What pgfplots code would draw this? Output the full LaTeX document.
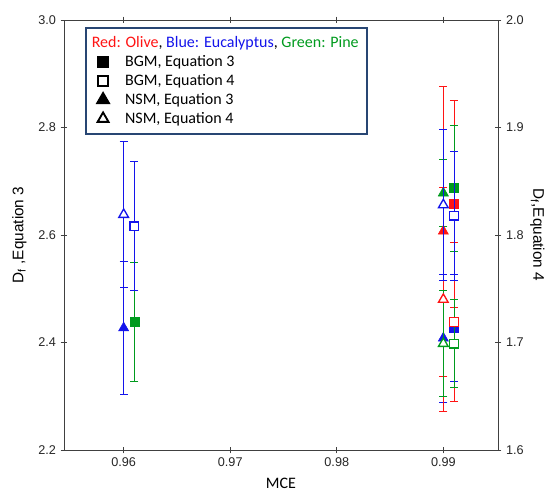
\documentclass[border=0pt]{standalone}
\usepackage{fontspec}
\setmainfont{Liberation Sans}
\newfontfamily\calibri{Carlito}
\usepackage{pgfplots}
\pgfplotsset{compat=1.18}

\definecolor{cred}{RGB}{255,20,20}
\definecolor{cblue}{RGB}{20,20,235}
\definecolor{cgreen}{RGB}{0,155,30}
\definecolor{framecol}{RGB}{40,70,115}

\pgfplotsset{
  base/.style={
    width=325.5pt, height=322.5pt, scale only axis,
    xmin=0.9544, xmax=0.99513,
    tick align=center,
    major tick length=5pt,
    axis line style={black!75, line width=0.7pt},
    tick style={black!75, line width=0.7pt},
    ticklabel style={font=\fontsize{9.5}{10}\selectfont, text=black!85},
    label style={font=\fontsize{11.5}{13}\selectfont},
    /pgf/number format/assume math mode=true,
  },
  fsq/.style={only marks, forget plot, mark=square*, color=#1, mark size=3.4pt,
    error bars/.cd, y dir=both, y explicit,
    error bar style={color=#1, line width=0.6pt},
    error mark options={rotate=90, draw=#1, mark size=3pt, line width=0.8pt}},
  ftri/.style={only marks, forget plot, mark=triangle*, color=#1, mark size=4.4pt,
    error bars/.cd, y dir=both, y explicit,
    error bar style={color=#1, line width=0.6pt},
    error mark options={rotate=90, draw=#1, mark size=3pt, line width=0.8pt}},
  osq/.style={only marks, forget plot, mark=square*, color=#1, mark size=3.2pt,
    mark options={fill=white, draw=#1, line width=1pt},
    error bars/.cd, y dir=both, y explicit,
    error bar style={color=#1, line width=0.6pt},
    error mark options={rotate=90, draw=#1, mark size=3pt, line width=0.8pt}},
  otri/.style={only marks, forget plot, mark=triangle*, color=#1, mark size=4.2pt,
    mark options={fill=white, draw=#1, line width=1pt},
    error bars/.cd, y dir=both, y explicit,
    error bar style={color=#1, line width=0.6pt},
    error mark options={rotate=90, draw=#1, mark size=3pt, line width=0.8pt}},
}

\begin{document}
\begin{tikzpicture}
% left axis: D_f from Equation 3
\begin{axis}[
  base, name=ax,
  ymin=2.2, ymax=3.0,
  ytick={2.2,2.4,2.6,2.8,3.0},
  xtick={0.96,0.97,0.98,0.99},
  ytick pos=left,
  xtick pos=both, xticklabel pos=bottom,
  yticklabel style={/pgf/number format/.cd, fixed, fixed zerofill, precision=1},
  xticklabel style={/pgf/number format/.cd, fixed, fixed zerofill, precision=2},
  xlabel={\calibri\fontsize{12}{13}\selectfont MCE},
  xlabel style={yshift=-1.5pt},
  ylabel={D\textsubscript{f} ,Equation 3},
  ylabel style={yshift=2pt},
]
% Olive
\addplot[fsq=cred] coordinates {(0.991,2.658) +- (0,0.193)};
\addplot[ftri=cred] coordinates {(0.990,2.607) +- (0,0.270)};
% Eucalyptus
\addplot[fsq=cblue] coordinates {(0.991,2.427) +- (0,0.100)};
\addplot[ftri=cblue] coordinates {(0.960,2.427) +- (0,0.123) (0.990,2.408) +- (0,0.119)};
% Pine
\addplot[fsq=cgreen] coordinates {(0.961,2.438) +- (0,0.110) (0.991,2.687) +- (0,0.117)};
\addplot[ftri=cgreen] coordinates {(0.990,2.678) +- (0,0.063)};
\end{axis}

% right axis: D_f from Equation 4
\begin{axis}[
  base,
  axis x line=none,
  axis y line*=right,
  ymin=1.6, ymax=2.0,
  ytick={1.6,1.7,1.8,1.9,2.0},
  yticklabel style={/pgf/number format/.cd, fixed, fixed zerofill, precision=1},
  ylabel={D\textsubscript{f},Equation 4},
  ylabel style={rotate=180, yshift=-2pt},
  legend style={
    at={(rel axis cs:0.048,0.984)}, anchor=north west,
    draw=framecol, line width=1.3pt,
    font=\calibri\fontsize{12}{14}\selectfont,
    inner xsep=4.5pt, inner ysep=4.5pt,
    row sep=0.4pt,
    /tikz/every odd column/.append style={column sep=10pt},
  },
  legend cell align=left,
]
% Olive
\addplot[osq=cred] coordinates {(0.991,1.719) +- (0,0.074)};
\addplot[otri=cred] coordinates {(0.990,1.740) +- (0,0.104)};
% Eucalyptus
\addplot[osq=cblue] coordinates {(0.961,1.808) +- (0,0.060) (0.991,1.818) +- (0,0.060)};
\addplot[otri=cblue] coordinates {(0.960,1.819) +- (0,0.068) (0.990,1.828) +- (0,0.070)};
% Pine
\addplot[osq=cgreen] coordinates {(0.991,1.699) +- (0,0.041)};
\addplot[otri=cgreen] coordinates {(0.990,1.699) +- (0,0.049)};

\addlegendimage{empty legend}
\addlegendentry{\hspace*{-25pt}\rule[-11pt]{0pt}{13pt}{\color{cred}Red: Olive}, {\color{cblue}Blue: Eucalyptus}, {\color{cgreen}Green: Pine}}
\addlegendimage{only marks, mark=square*, black, mark size=4.1pt}
\addlegendentry{BGM, Equation 3}
\addlegendimage{only marks, mark=square*, mark size=3.7pt, mark options={fill=white, draw=black, line width=1.4pt}}
\addlegendentry{BGM, Equation 4}
\addlegendimage{only marks, mark=triangle*, black, mark size=5.2pt}
\addlegendentry{NSM, Equation 3}
\addlegendimage{only marks, mark=triangle*, mark size=4.7pt, mark options={fill=white, draw=black, line width=1.4pt}}
\addlegendentry{NSM, Equation 4}
\end{axis}

\pgfresetboundingbox
\path[use as bounding box] ([shift={(-48pt,-31.5pt)}]ax.south west) rectangle ([shift={(45pt,15pt)}]ax.north east);
\end{tikzpicture}
\end{document}
